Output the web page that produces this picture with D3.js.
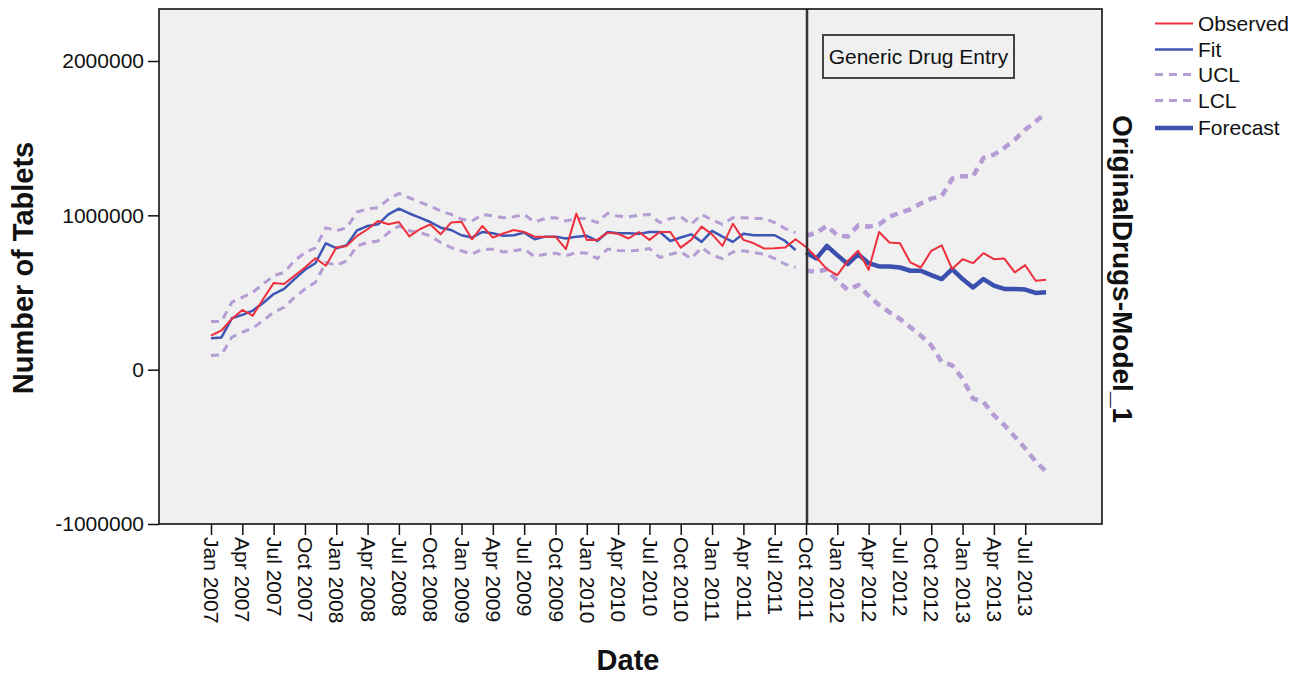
<!DOCTYPE html>
<html>
<head>
<meta charset="utf-8">
<script src="https://cdn.jsdelivr.net/npm/d3@7"></script>
<style>
  html, body { margin: 0; padding: 0; background: #ffffff; }
  svg { display: block; font-family: Arial, "Liberation Sans", sans-serif; }
</style>
</head>
<body>
<svg id="chart" width="1303" height="677"></svg>
<script>
// ---------- data ----------
const startMonth = new Date(2007, 0, 1);
const monthCount = 81; // Jan 2007 .. Sep 2013
const months = d3.timeMonth.range(startMonth, d3.timeMonth.offset(startMonth, monthCount));

const tickLabels = ["Jan 2007","Apr 2007","Jul 2007","Oct 2007","Jan 2008","Apr 2008","Jul 2008","Oct 2008",
  "Jan 2009","Apr 2009","Jul 2009","Oct 2009","Jan 2010","Apr 2010","Jul 2010","Oct 2010",
  "Jan 2011","Apr 2011","Jul 2011","Oct 2011","Jan 2012","Apr 2012","Jul 2012","Oct 2012",
  "Jan 2013","Apr 2013","Jul 2013"];
const yTicks = [-1000000, 0, 1000000, 2000000];
const yTickLabels = ["-1000000", "0", "1000000", "2000000"];

const observed = [221000,254000,329000,387000,350000,458000,561000,555000,608000,662000,
  722000,673000,791000,802000,867000,910000,963000,942000,957000,864000,
  910000,942000,877000,953000,959000,845000,931000,856000,882000,905000,
  892000,862000,862000,862000,781000,1011000,841000,841000,888000,880000,
  850000,892000,841000,892000,892000,791000,841000,927000,877000,802000,
  946000,841000,819000,785000,787000,791000,845000,795000,727000,652000,
  613000,705000,770000,647000,892000,824000,819000,695000,662000,770000,
  806000,652000,716000,690000,755000,716000,720000,630000,677000,576000,583000];

const fit = [204000,209000,333000,355000,383000,432000,490000,523000,587000,647000,
  690000,819000,787000,806000,903000,931000,942000,1006000,1043000,1012000,
  985000,957000,920000,905000,871000,856000,892000,884000,867000,871000,
  888000,845000,862000,862000,850000,862000,867000,834000,892000,884000,
  884000,880000,892000,892000,834000,856000,877000,828000,899000,862000,
  828000,880000,871000,871000,871000,834000,775000];

const forecastStart = 57; // Oct 2011
const forecast = [759000,720000,802000,742000,684000,748000,690000,669000,669000,662000,
  641000,641000,613000,587000,652000,587000,533000,587000,544000,523000,
  523000,519000,497000,501000];

const ucl = [312000,312000,437000,469000,501000,555000,608000,630000,705000,759000,
  790000,920000,899000,920000,1021000,1043000,1050000,1103000,1142000,1114000,
  1086000,1060000,1028000,1006000,974000,963000,1006000,996000,985000,990000,
  1006000,957000,979000,985000,963000,979000,979000,953000,1013000,995000,
  991000,1000000,1006000,953000,979000,991000,942000,1006000,970000,942000,
  985000,985000,979000,979000,953000,914000,888000,867000,888000,931000,
  871000,862000,935000,927000,942000,991000,1017000,1039000,1077000,1108000,
  1125000,1237000,1254000,1254000,1372000,1394000,1437000,1490000,1555000,1608000,1663000];

const lcl = [92000,96000,211000,243000,269000,318000,372000,404000,469000,523000,
  566000,695000,677000,705000,802000,824000,834000,888000,931000,900000,
  888000,867000,824000,791000,770000,748000,781000,781000,763000,770000,
  781000,733000,748000,755000,738000,759000,755000,720000,781000,772000,
  770000,774000,785000,727000,748000,763000,720000,791000,742000,720000,
  763000,770000,759000,748000,720000,684000,662000,641000,634000,650000,
  576000,518000,548000,479000,419000,372000,329000,275000,221000,157000,
  50000,28000,-58000,-187000,-209000,-295000,-359000,-434000,-510000,-596000,-660000];

const legendItems = ["Observed","Fit","UCL","LCL","Forecast"];
const annotationText = "Generic Drug Entry";

// ---------- layout ----------
const svg = d3.select("#chart");
const plot = {left: 159, right: 1102, top: 9, bottom: 524};

const x = d3.scaleLinear().domain([0, 57]).range([211, 806]);
const y = d3.scaleLinear().domain([-1000000, 2337000]).range([plot.bottom, plot.top]);

const colObs = "#ef2f3c", colFit = "#3d56b5", colCL = "#b69cd4", colFc = "#3a4fae";

// plot background
svg.append("rect").attr("x", plot.left).attr("y", plot.top)
  .attr("width", plot.right - plot.left).attr("height", plot.bottom - plot.top)
  .attr("fill", "#f0f0f0");

const line = d3.line().x(d => x(d.i)).y(d => y(d.v));
const toPts = (arr, off) => arr.map((v, k) => ({i: k + off, v}));

// confidence limits (in-sample thin, forecast thick)
[ucl, lcl].forEach(arr => {
  svg.append("path").attr("d", line(toPts(arr.slice(0, forecastStart), 0)))
    .attr("fill", "none").attr("stroke", colCL).attr("stroke-width", 3)
    .attr("stroke-dasharray", "8,6");
  svg.append("path").attr("d", line(toPts(arr.slice(forecastStart), forecastStart)))
    .attr("fill", "none").attr("stroke", colCL).attr("stroke-width", 4.5)
    .attr("stroke-dasharray", "8,6");
});

// fit
svg.append("path").attr("d", line(toPts(fit, 0)))
  .attr("fill", "none").attr("stroke", colFit).attr("stroke-width", 2.5)
  .attr("stroke-linejoin", "round");
// forecast
svg.append("path").attr("d", line(toPts(forecast, forecastStart)))
  .attr("fill", "none").attr("stroke", colFc).attr("stroke-width", 4.5)
  .attr("stroke-linejoin", "round");
// observed
svg.append("path").attr("d", line(toPts(observed, 0)))
  .attr("fill", "none").attr("stroke", colObs).attr("stroke-width", 2)
  .attr("stroke-linejoin", "round");

// vertical reference line at Oct 2011
svg.append("line").attr("x1", x(forecastStart) + 1).attr("x2", x(forecastStart) + 1)
  .attr("y1", plot.top).attr("y2", plot.bottom)
  .attr("stroke", "#333").attr("stroke-width", 2.5);

// annotation box
const box = svg.append("g");
box.append("rect").attr("x", 823).attr("y", 35).attr("width", 191).attr("height", 43)
  .attr("fill", "#f0f0f0").attr("stroke", "#444").attr("stroke-width", 2);
box.append("text").attr("x", 918.5).attr("y", 64).attr("text-anchor", "middle")
  .attr("font-size", 21).attr("fill", "#111").text(annotationText);

// frame
svg.append("rect").attr("x", plot.left).attr("y", plot.top)
  .attr("width", plot.right - plot.left).attr("height", plot.bottom - plot.top)
  .attr("fill", "none").attr("stroke", "#111").attr("stroke-width", 1.6);

// y axis
const yAxis = d3.axisLeft(y).tickValues(yTicks).tickFormat((d, k) => yTickLabels[k])
  .tickSize(11).tickPadding(4);
const gy = svg.append("g").attr("transform", `translate(${plot.left},0)`).call(yAxis);
gy.select(".domain").remove();
gy.selectAll(".tick line").attr("stroke", "#111").attr("stroke-width", 1.5);
gy.selectAll(".tick text").attr("font-size", 21).attr("fill", "#111")
  .attr("font-family", "Arial, 'Liberation Sans', sans-serif");

// x axis
const xTickVals = tickLabels.map((_, k) => k * 3);
const xAxis = d3.axisBottom(x).tickValues(xTickVals)
  .tickFormat((d, k) => tickLabels[k]).tickSize(11).tickPadding(1);
const gx = svg.append("g").attr("transform", `translate(0,${plot.bottom})`).call(xAxis);
gx.select(".domain").remove();
gx.selectAll(".tick line").attr("stroke", "#111").attr("stroke-width", 1.5);
gx.selectAll(".tick text").attr("font-size", 21).attr("fill", "#111")
  .attr("font-family", "Arial, 'Liberation Sans', sans-serif")
  .attr("text-anchor", "start")
  .attr("transform", "rotate(90)")
  .attr("x", 13).attr("y", 0).attr("dy", "0.35em");

// axis titles
svg.append("text").attr("transform", "translate(33,268) rotate(-90)")
  .attr("text-anchor", "middle").attr("font-size", 29).attr("font-weight", "bold")
  .attr("fill", "#111").text("Number of Tablets");
svg.append("text").attr("x", 628).attr("y", 670)
  .attr("text-anchor", "middle").attr("font-size", 29).attr("font-weight", "bold")
  .attr("fill", "#111").text("Date");
svg.append("text").attr("transform", "translate(1113,269) rotate(90)")
  .attr("text-anchor", "middle").attr("font-size", 28).attr("font-weight", "bold")
  .attr("fill", "#111").text("OriginalDrugs-Model_1");

// legend
const legY = [23.5, 49.5, 74.5, 100.5, 128];
const legStyle = [
  {c: colObs, w: 2, dash: null},
  {c: colFit, w: 2.5, dash: null},
  {c: colCL, w: 3, dash: "8,6"},
  {c: colCL, w: 3, dash: "8,6"},
  {c: colFc, w: 4.5, dash: null}
];
const leg = svg.append("g");
legendItems.forEach((name, k) => {
  const s = legStyle[k];
  leg.append("line").attr("x1", 1155).attr("x2", 1193).attr("y1", legY[k]).attr("y2", legY[k])
    .attr("stroke", s.c).attr("stroke-width", s.w).attr("stroke-dasharray", s.dash);
  leg.append("text").attr("x", 1198).attr("y", legY[k]).attr("dy", "0.35em")
    .attr("font-size", 21).attr("fill", "#111").text(name);
});
</script>
</body>
</html>
